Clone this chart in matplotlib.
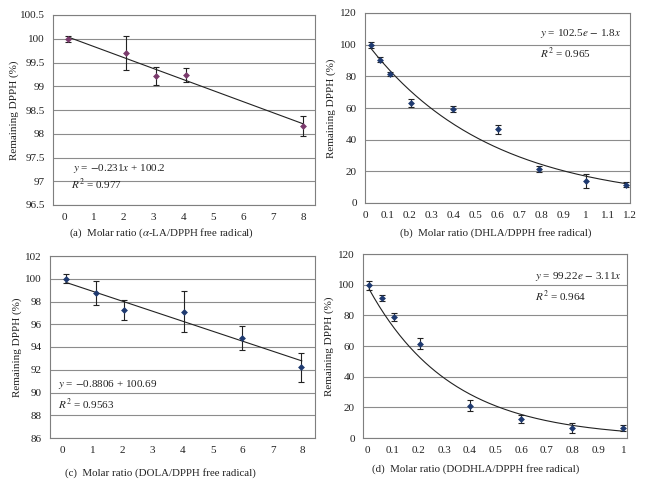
import numpy as np
import matplotlib
matplotlib.use("Agg")
import matplotlib.pyplot as plt

plt.rcParams["font.family"] = ["Liberation Serif", "DejaVu Serif"]
plt.rcParams["mathtext.fontset"] = "stix"

# (a) alpha-LA
xa = [0.12, 2.08, 3.07, 4.07, 8.0]
ya = [100.0, 99.7, 99.22, 99.23, 98.16]
ea = [0.06, 0.35, 0.19, 0.15, 0.21]
fit_a_x = [0.12, 8.0]
fit_a_y = [100.04, 98.21]

# (b) DHLA
xb = [0.025, 0.07, 0.115, 0.21, 0.4, 0.6, 0.79, 1.0, 1.18]
yb = [100.0, 90.5, 81.5, 63.0, 59.5, 46.5, 21.3, 14.0, 11.5]
eb = [2.0, 1.5, 1.5, 2.5, 2.0, 3.0, 2.0, 4.5, 1.5]
coef_b = (102.5, 1.8)

# (c) DOLA
xc = [0.11, 1.1, 2.06, 4.04, 5.97, 7.94]
yc = [100.0, 98.75, 97.25, 97.1, 94.8, 92.2]
ec = [0.4, 1.05, 0.9, 1.8, 1.05, 1.3]
fit_c_x = [0.11, 7.97]
fit_c_y = [99.68, 92.78]

# (d) DODHLA
xd = [0.007, 0.057, 0.105, 0.205, 0.4, 0.6, 0.8, 0.997]
yd = [99.5, 91.5, 79.0, 61.5, 21.0, 12.5, 6.5, 6.5]
ed = [3.0, 2.0, 2.5, 3.5, 3.5, 2.5, 3.5, 1.8]
coef_d = (99.22, 3.11)

W, H = 645, 480
fig = plt.figure(figsize=(6.45, 4.8), dpi=100)


def box(l, r, t, b):
    return [l / W, 1 - b / H, (r - l) / W, (b - t) / H]


def style(ax, ylim, yticks, xlim, xticks, xlabels, labx):
    ax.set_xlim(*xlim)
    ax.set_ylim(*ylim)
    ax.set_yticks(yticks)
    ax.set_xticks(xticks)
    ax.set_xticklabels(xlabels)
    ax.grid(axis="y", color="#8c8c8c", lw=0.8)
    ax.set_axisbelow(True)
    for s in ax.spines.values():
        s.set_color("#7f7f7f")
        s.set_linewidth(0.8)
    ax.tick_params(length=0, labelsize=8, pad=6, colors="#222222")
    ax.set_ylabel("Remaining DPPH (%)", fontsize=8, color="#222222")
    ax.yaxis.set_label_coords(labx, 0.5)


def points(ax, x, y, e, color):
    ax.errorbar(x, y, yerr=e, fmt="none", ecolor="#222222",
                elinewidth=0.8, capsize=2.5, capthick=0.8, zorder=3)
    ax.plot(x, y, "D", ms=3.5, mew=0, color=color, zorder=4)


eq = dict(fontsize=8, color="#222222")

axa = fig.add_axes(box(53, 315, 15, 205))
style(axa, (96.5, 100.5), np.arange(96.5, 100.51, 0.5), (-0.37, 8.4),
      range(9), [str(i) for i in range(9)], -0.13)
axa.set_yticklabels(["96.5", "97", "97.5", "98", "98.5", "99", "99.5", "100", "100.5"])
axa.plot(fit_a_x, fit_a_y, color="#222222", lw=0.8)
points(axa, xa, ya, ea, "#7a3a6c")
axa.text(0.075, 0.18, r"$y$ = $-$0.231$x$ + 100.2", transform=axa.transAxes, **eq)
axa.text(0.07, 0.085, r"$R^2$ = 0.977", transform=axa.transAxes, **eq)

axb = fig.add_axes(box(365, 630, 13, 203))
bt = np.round(np.arange(0, 1.21, 0.1), 1)
style(axb, (0, 120), range(0, 121, 20), (0, 1.2), bt,
      ["0", "0.1", "0.2", "0.3", "0.4", "0.5", "0.6", "0.7", "0.8", "0.9", "1", "1.1", "1.2"], -0.11)
xfb = np.linspace(xb[0], xb[-1], 200)
axb.plot(xfb, coef_b[0] * np.exp(-coef_b[1] * xfb), color="#222222", lw=0.8)
points(axb, xb, yb, eb, "#1f3a70")
axb.text(0.66, 0.88, r"$y$ = 102.5$e$ $-$ 1.8$x$", transform=axb.transAxes, **eq)
axb.text(0.66, 0.765, r"$R^2$ = 0.965", transform=axb.transAxes, **eq)

axc = fig.add_axes(box(50, 315, 256, 438))
style(axc, (86, 102), range(86, 103, 2), (-0.42, 8.41),
      range(9), [str(i) for i in range(9)], -0.105)
axc.plot(fit_c_x, fit_c_y, color="#222222", lw=0.8)
points(axc, xc, yc, ec, "#1f3a70")
axc.text(0.03, 0.28, r"$y$ = $-$0.8806 + 100.69", transform=axc.transAxes, **eq)
axc.text(0.03, 0.16, r"$R^2$ = 0.9563", transform=axc.transAxes, **eq)

axd = fig.add_axes(box(363, 627, 254, 438))
dt = np.round(np.arange(0, 1.01, 0.1), 1)
style(axd, (0, 120), range(0, 121, 20), (-0.017, 1.013), dt,
      ["0", "0.1", "0.2", "0.3", "0.4", "0.5", "0.6", "0.7", "0.8", "0.9", "1"], -0.11)
xfd = np.linspace(xd[0], xd[-1], 200)
axd.plot(xfd, coef_d[0] * np.exp(-coef_d[1] * xfd), color="#222222", lw=0.8)
points(axd, xd, yd, ed, "#1f3a70")
axd.text(0.65, 0.865, r"$y$ = 99.22$e$ $-$ 3.11$x$", transform=axd.transAxes, **eq)
axd.text(0.65, 0.745, r"$R^2$ = 0.964", transform=axd.transAxes, **eq)

caps = [
    (162, 233, r"(a)  Molar ratio ($\alpha$-LA/DPPH free radical)"),
    (496, 233, "(b)  Molar ratio (DHLA/DPPH free radical)"),
    (160, 473, "(c)  Molar ratio (DOLA/DPPH free radical)"),
    (476, 469, "(d)  Molar ratio (DODHLA/DPPH free radical)"),
]
for x, y, s in caps:
    fig.text(x / W, 1 - y / H, s, ha="center", va="center", fontsize=7.8, color="#222222")

fig.savefig("out.png", dpi=100)
